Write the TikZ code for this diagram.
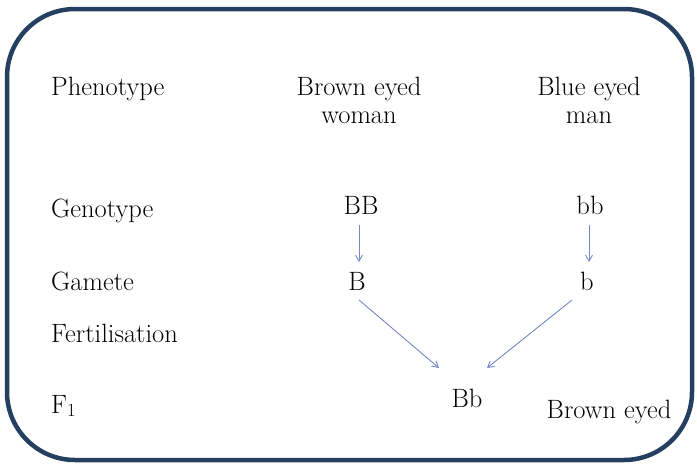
\documentclass[tikz,border=0pt]{standalone}
\usetikzlibrary{arrows.meta}
\definecolor{frame}{RGB}{36,63,96}
\definecolor{arr}{RGB}{118,136,200}
\tikzset{
  lbl/.style={anchor=base west, inner sep=0pt, font=\fontsize{26.5}{28}\selectfont},
  txt/.style={anchor=base, inner sep=0pt, align=center, font=\fontsize{26.5}{28}\selectfont},
  conn/.style={draw=arr, line width=0.9pt, -{Straight Barb[length=6pt,width=7pt]}}
}
\begin{document}
\begin{tikzpicture}[x=1pt,y=-1pt]
\useasboundingbox (0,0) rectangle (697,464);
\draw[frame, line width=4.5pt, rounded corners=68pt] (7,9) rectangle (692,460);

\node[lbl] (phen) at (51,95) {Phenotype};
\node[lbl] (geno) at (51,217) {Genotype};
\node[lbl] (game) at (51,290) {Gamete};
\node[lbl] (fert) at (51,342) {Fertilisation};
\node[lbl] (f1) at (51,413) {F\textsubscript{1}};

\node[txt] (woman) at (359,123) {Brown eyed\\woman};
\node[txt] (man) at (589,123) {Blue eyed\\man};

\node[txt] (BB) at (361,214) {BB};
\node[txt] (bb) at (590,214) {bb};
\node[txt] (B) at (357,290) {B};
\node[txt] (b) at (587,290) {b};
\node[txt] (Bb) at (467,407) {Bb};
\node[txt] (brown) at (609,418) {Brown eyed};

\coordinate (BBs) at (359,225);
\coordinate (BBe) at (359,262);
\coordinate (bbs) at (589,225);
\coordinate (bbe) at (589,262);
\coordinate (Bs) at (359,300);
\coordinate (Bbl) at (439,368);
\coordinate (bs) at (572,300);
\coordinate (Bbr) at (487,368);
\draw[conn] (BBs) -- (BBe);
\draw[conn] (bbs) -- (bbe);
\draw[conn] (Bs) -- (Bbl);
\draw[conn] (bs) -- (Bbr);
\end{tikzpicture}
\end{document}
